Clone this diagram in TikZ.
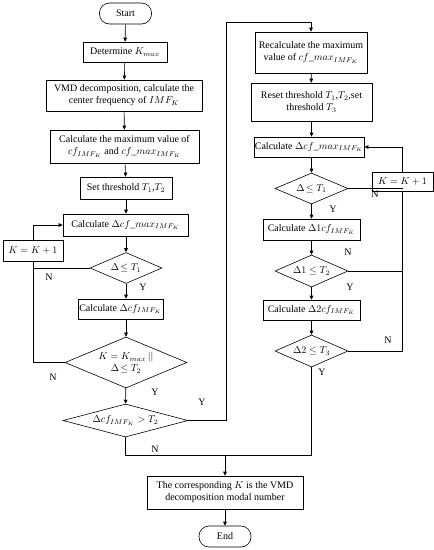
\documentclass[tikz,border=0pt]{standalone}
\usepackage{fontspec}
\setmainfont{Liberation Serif}
\usetikzlibrary{shapes.geometric,arrows.meta}

\tikzset{
    box/.style={draw, line width=0.6pt, align=center, inner sep=1pt, font=\fontsize{10}{12}\selectfont},
    term/.style={box, rounded corners=10pt, minimum width=52pt, minimum height=21pt},
    test/.style={draw, line width=0.6pt, diamond, aspect=2.4, inner sep=0pt, font=\fontsize{10}{12}\selectfont, align=center},
    yn/.style={font=\fontsize{10}{12}\selectfont, inner sep=0pt},
    arr/.style={-{Triangle[length=4pt,width=3.6pt]}, line width=0.6pt},
    ln/.style={line width=0.6pt}
}

\begin{document}
\begin{tikzpicture}[x=1pt, y=-1pt]
        \useasboundingbox (0,0) rectangle (434,550);

        % left column
        \node[term] (start) at (125.5,13.5) {Start};
        \node[box, minimum width=84pt, minimum height=20pt] (kmax) at (125,52) {Determine $K_{max}$};
        \node[box, minimum width=156pt, minimum height=31pt] (vmd) at (124,95.5) {VMD decomposition, calculate the\\center frequency of $IMF_K$};
        \node[box, minimum width=149pt, minimum height=33pt] (cfmax) at (124.5,146.5) {Calculate the maximum value of\\$cf_{IMF_K}$ and $cf\_max_{IMF_K}$};
        \node[box, minimum width=92pt, minimum height=22pt] (setT) at (126,188) {Set threshold $T_1$,$T_2$};
        \node[box, minimum width=125pt, minimum height=22pt] (dmaxL) at (125.5,225) {Calculate $\Delta cf\_max_{IMF_K}$};
        \node[box, minimum width=60pt, minimum height=21pt] (incL) at (33,250.5) {$K=K+1$};
        \node[test, minimum width=72pt, minimum height=31pt] (tAL) at (126,268) {$\Delta\!\leq T_1$};
        \node[box, minimum width=85pt, minimum height=20pt] (dcfL) at (120.5,309) {Calculate $\Delta cf_{IMF_K}$};
        \node[test, minimum width=122pt, minimum height=51pt] (tBL) at (126,362.5) {$K=K_{max}\,||$\\$\Delta\!\leq T_2$};
        \node[test, aspect=3.8, minimum width=125pt, minimum height=33pt] (tCL) at (125.5,420.5) {$\Delta cf_{IMF_K}>T_2$};

        % right column
        \node[box, minimum width=112pt, minimum height=41pt] (recal) at (311,52.5) {Recalculate the maximum\\value of $cf\_max_{IMF_K}$};
        \node[box, minimum width=121pt, minimum height=38pt] (reset) at (311.5,102) {Reset threshold $T_1$,$T_2$,set\\threshold $T_3$};
        \node[box, minimum width=110pt, minimum height=20pt] (dmaxR) at (309,147) {Calculate $\Delta cf\_max_{IMF_K}$};
        \node[box, minimum width=61pt, minimum height=19pt] (incR) at (402.5,181.5) {$K=K+1$};
        \node[test, minimum width=73pt, minimum height=31pt] (tAR) at (311.5,188.5) {$\Delta\!\leq T_1$};
        \node[box, minimum width=97pt, minimum height=21pt] (d1R) at (311.5,229.5) {Calculate $\Delta 1cf_{IMF_K}$};
        \node[test, minimum width=73pt, minimum height=32pt] (tBR) at (311.5,271) {$\Delta1\leq T_2$};
        \node[box, minimum width=97pt, minimum height=20pt] (d2R) at (311.5,310) {Calculate $\Delta 2cf_{IMF_K}$};
        \node[test, minimum width=73pt, minimum height=32pt] (tCR) at (311.5,351) {$\Delta2\leq T_3$};

        % bottom
        \node[box, minimum width=156pt, minimum height=33pt] (final) at (225,492.5) {The corresponding $K$ is the VMD\\decomposition modal number};
        \node[term] (end) at (225,536.5) {End};

        \coordinate (top) at (226,22);
        \coordinate (jn) at (225,455);

        % main flow
        \draw[arr] (start) -- (kmax);
        \draw[arr] (kmax) -- (vmd);
        \draw[arr] (vmd) -- (cfmax);
        \draw[arr] (cfmax) -- (setT);
        \draw[arr] (setT) -- (setT |- dmaxL.north);
        \draw[arr] (dmaxL.south -| tAL) -- (tAL);
        \draw[arr] (tAL) -- (tAL |- dcfL.north);
        \draw[arr] (dcfL.south -| tBL) -- (tBL);
        \draw[arr] (tBL) -- (tCL);

        % left loop
        \draw[ln] (tAL.west) -- (incL.south |- tAL.west);
        \draw[ln] (tBL.west) -| (incL.south);
        \draw[arr] (incL.north) |- (dmaxL.west);

        % jump to right column
        \draw[arr] (tCL.east) -| (top) -| (recal.north);

        \draw[arr] (recal) -- (reset);
        \draw[arr] (reset.south) -- (reset.south |- dmaxR.north);
        \draw[arr] (dmaxR.south -| tAR) -- (tAR);
        \draw[arr] (tAR) -- (d1R);
        \draw[arr] (d1R) -- (tBR);
        \draw[arr] (tBR) -- (d2R);
        \draw[arr] (d2R) -- (tCR);

        % right loop
        \draw[ln] (tAR.east) -- (incR.south |- tAR.east);
        \draw[ln] (tBR.east) -- (incR.south |- tBR.east);
        \draw[ln] (tCR.east) -| (incR.south);
        \draw[arr] (incR.north) |- (dmaxR.east);

        % exits
        \draw[ln] (tCL.south) |- (jn);
        \draw[ln] (tCR.south) |- (jn);
        \draw[arr] (jn) -- (final);
        \draw[arr] (final) -- (end);

        % Y / N
        \node[yn] (nAL) at (49,277) {N};
        \node[yn] (yAL) at (143,287) {Y};
        \node[yn] (nBL) at (53,377) {N};
        \node[yn] (yBL) at (155,392) {Y};
        \node[yn] (yCL) at (202,402) {Y};
        \node[yn] (nCL) at (155,449) {N};
        \node[yn] (nAR) at (375,194) {N};
        \node[yn] (yAR) at (333,209) {Y};
        \node[yn] (nBR) at (348,252) {N};
        \node[yn] (yBR) at (350,287) {Y};
        \node[yn] (nCR) at (388,340) {N};
        \node[yn] (yCR) at (322,372) {Y};

    \end{tikzpicture}
\end{document}
